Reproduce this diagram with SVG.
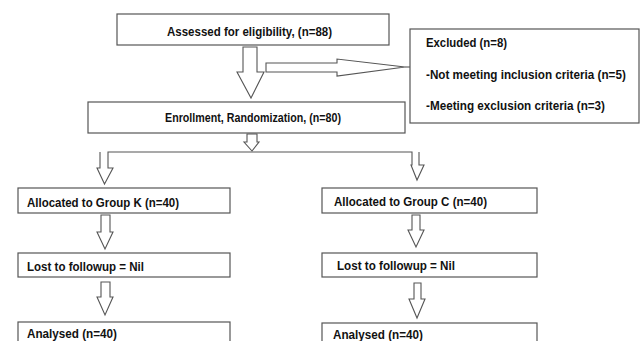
<svg xmlns="http://www.w3.org/2000/svg" width="641" height="341" viewBox="0 0 641 341">
<style>
.box{fill:#fff;stroke:#555;stroke-width:1.2}
.arr{fill:#fff;stroke:#555;stroke-width:1.1;stroke-linejoin:miter}
.t{font-family:"Liberation Sans",Arial,sans-serif;font-weight:bold;font-size:13px;fill:#111}
</style>
<rect width="641" height="341" fill="#fff"/>
<g id="connectors">
<polygon class="arr" points="243,47 257,47 257,72 264,72 251,98 237,72 243,72"/>
<polygon class="arr" points="266,63 337,63 337,59 405,67 337,76 337,72 266,72"/>
<line x1="405" y1="67" x2="410" y2="67" stroke="#555" stroke-width="1.1"/>
<polygon class="arr" points="247,134 257,134 257,142 259,142 252,151 244,142 247,142"/>
<path class="arr" d="M100,152 V168 H97 L104.5,184 L113,168 H108 V152 H412 V165 H411 L417,180 L424,165 H419 V152"/>
<polygon class="arr" points="101,215 110,215 110,232 113,232 105,249 97,232 101,232"/>
<polygon class="arr" points="101,282 110,282 110,297 113,297 105,315 97,297 101,297"/>
<polygon class="arr" points="412,215 420,215 420,230 424,230 416,247 408,230 412,230"/>
<polygon class="arr" points="414,283 421,283 421,299 425,299 417,318 409,299 414,299"/>
</g>
<g id="assessed">
<rect class="box" x="117" y="14" width="272" height="31"/>
<text class="t" x="167" y="36" font-size="12.5" textLength="165" lengthAdjust="spacingAndGlyphs">Assessed for eligibility, (n=88)</text>
</g>
<g id="excluded">
<rect class="box" x="410" y="29" width="229" height="94"/>
<text class="t" x="426" y="47" textLength="81" lengthAdjust="spacingAndGlyphs">Excluded (n=8)</text>
<text class="t" transform="translate(426,79) scale(0.9,1)" x="0" y="0">-Not meeting inclusion criteria (n=5)</text>
<text class="t" x="426" y="110" textLength="179" lengthAdjust="spacingAndGlyphs">-Meeting exclusion criteria (n=3)</text>
</g>
<g id="enrollment">
<rect class="box" x="88" y="102" width="317" height="31"/>
<text class="t" x="165" y="122" font-size="11.5" textLength="176" lengthAdjust="spacingAndGlyphs">Enrollment, Randomization, (n=80)</text>
</g>
<g id="groupK">
<rect class="box" x="18" y="188" width="212" height="25"/>
<text class="t" x="27" y="207" textLength="152" lengthAdjust="spacingAndGlyphs">Allocated to Group K (n=40)</text>
</g>
<g id="lostK">
<rect class="box" x="18" y="253" width="212" height="24"/>
<text class="t" x="27" y="271" textLength="117" lengthAdjust="spacingAndGlyphs">Lost to followup = Nil</text>
</g>
<g id="analysedK">
<rect class="box" x="18" y="322" width="212" height="30"/>
<text class="t" x="27" y="338" textLength="90" lengthAdjust="spacingAndGlyphs">Analysed (n=40)</text>
</g>
<g id="groupC">
<rect class="box" x="322" y="188" width="215" height="25"/>
<text class="t" x="334" y="206" textLength="153" lengthAdjust="spacingAndGlyphs">Allocated to Group C (n=40)</text>
</g>
<g id="lostC">
<rect class="box" x="322" y="253" width="215" height="24"/>
<text class="t" x="337" y="270" textLength="118" lengthAdjust="spacingAndGlyphs">Lost to followup = Nil</text>
</g>
<g id="analysedC">
<rect class="box" x="322" y="323" width="215" height="30"/>
<text class="t" x="333" y="339" textLength="90" lengthAdjust="spacingAndGlyphs">Analysed (n=40)</text>
</g>
</svg>
